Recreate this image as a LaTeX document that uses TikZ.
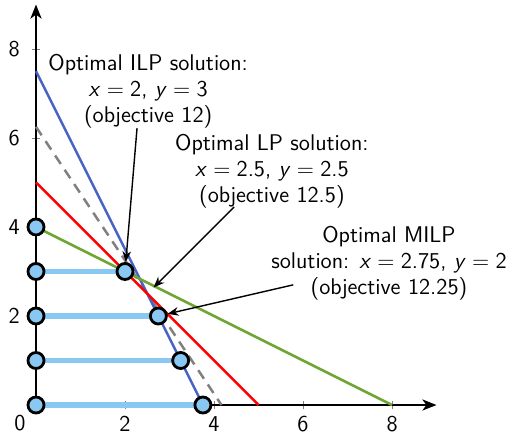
\documentclass[tikz,border=0pt]{standalone}
\usetikzlibrary{arrows.meta,calc}
\definecolor{cblue}{HTML}{4763C8}
\definecolor{cgreen}{HTML}{6FA532}
\definecolor{cred}{HTML}{FF0000}
\definecolor{lblue}{HTML}{88C8F2}
\newcommand{\vx}{\textit{x}}
\newcommand{\vy}{\textit{y}}
\newcommand{\eqs}{${}={}$}
\begin{document}
\begin{tikzpicture}[
  font=\sffamily\fontsize{14.5}{16.6}\selectfont,
  axis/.style={line width=1.8pt,-{Stealth[length=9pt,width=7pt,inset=2.5pt]}},
  tick/.style={gray,line width=0.4pt},
  cons/.style={line width=1.6pt},
  intl/.style={lblue,line width=3.4pt},
  pt/.style={circle,draw=black,fill=lblue,line width=1.8pt,minimum size=0.36cm,inner sep=0pt},
  note/.style={align=center,inner sep=1pt},
  ann/.style={line width=0.9pt,-{Stealth[length=7pt,width=5.5pt]}}
]
\useasboundingbox (-0.809,-0.697) rectangle (10.74,9.10);
% ticks
\foreach \t in {2,4,6,8}{
  \draw[tick] (\t,-0.1) -- (\t,0.1);
  \draw[tick] (-0.1,\t) -- (0.1,\t);
  \node (xl\t) at (\t,-0.43) {\t};
  \node (yl\t) at (-0.49,\t) {\t};
}
\node (zl) at (-0.36,-0.40) {0};
% axes
\coordinate (O) at (0,0);
\coordinate (xe) at (9,0);
\coordinate (ye) at (0,9);
\draw[axis] (O) -- (xe);
\draw[axis] (O) -- (ye);
% integer lines
\draw[intl] (0,0) -- (3.75,0);
\draw[intl] (0,1) -- (3.25,1);
\draw[intl] (0,2) -- (2.75,2);
\draw[intl] (0,3) -- (2,3);
% constraint lines
\draw[gray,line width=1.6pt,dash pattern=on 6.5pt off 4.5pt] (0,6.25) -- (4.1667,0);
\draw[cons,cblue] (0,7.5) -- (3.75,0);
\draw[cons,cgreen] (0,4) -- (8,0);
\draw[cons,cred] (0,5) -- (5,0);
% points
\foreach \j in {0,1,2,3,4}{ \node[pt] (a\j) at (0,\j) {}; }
\node[pt] (b0) at (3.75,0) {};
\node[pt] (b1) at (3.25,1) {};
\node[pt] (b2) at (2.75,2) {};
\node[pt] (b3) at (2,3) {};
\coordinate (lp) at (2.5,2.5);
% notes
\node[note] (ilp) at (2.52,7.05) {Optimal ILP solution:\\ \vx\eqs 2, \vy\eqs 3\\ (objective 12)};
\node[note] (lpn) at (5.30,5.25) {Optimal LP solution:\\ \vx\eqs 2.5, \vy\eqs 2.5\\ (objective 12.5)};
\node[note] (milp) at (7.93,3.18) {Optimal MILP\\ solution: \vx\eqs 2.75, \vy\eqs 2\\ (objective 12.25)};
% arrows
\coordinate (s1) at (2.27,6.22);
\coordinate (s2) at (4.45,4.45);
\coordinate (s3) at (5.78,2.70);
\draw[ann] (s1) -- (b3);
\draw[ann,shorten >=0.2cm] (s2) -- (lp);
\draw[ann] (s3) -- (b2);
\end{tikzpicture}
\end{document}
